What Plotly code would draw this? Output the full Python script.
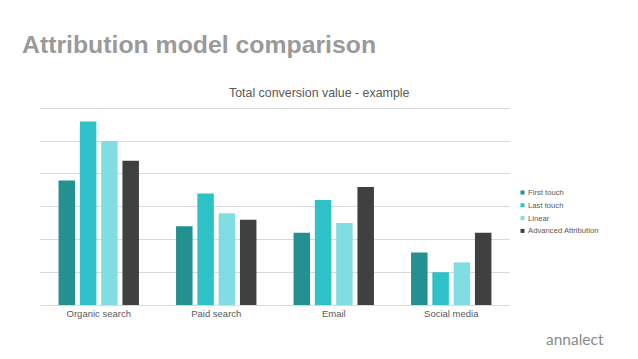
import plotly.graph_objects as go

categories = ["Organic search", "Paid search", "Email", "Social media"]
first_touch = [3.8, 2.4, 2.2, 1.6]
last_touch = [5.6, 3.4, 3.2, 1.0]
linear = [5.0, 2.8, 2.5, 1.3]
advanced = [4.4, 2.6, 3.6, 2.2]

series_names = ["First touch", "Last touch", "Linear", "Advanced Attribution"]
series_values = [first_touch, last_touch, linear, advanced]
colors = ["#22918F", "#2EC1C8", "#80DEE3", "#404040"]

W, H = 638, 359
L, R, T, B = 40, 128, 105, 54
PW, PH = W - L - R, H - T - B


def px(x):
    return (x - L) / PW


def py(y):
    return (H - B - y) / PH


fig = go.Figure()
for name, vals, c in zip(series_names, series_values, colors):
    fig.add_trace(go.Bar(x=categories, y=vals, name=name, marker=dict(color=c, line=dict(width=0))))

font_family = "Liberation Sans, Arial, sans-serif"

annotations = [
    dict(text="<b>Attribution model comparison</b>", xref="paper", yref="paper",
         x=px(20), y=py(44), xanchor="left", yanchor="middle",
         showarrow=False, font=dict(size=24.8, color="#9a9a9a", family=font_family)),
    dict(text="Total conversion value - example", xref="paper", yref="paper",
         x=px(319), y=py(93), xanchor="center", yanchor="middle",
         showarrow=False, font=dict(size=12.4, color="#595959", family=font_family)),
    dict(text="annalect", xref="paper", yref="paper",
         x=px(574.5), y=py(339), xanchor="center", yanchor="middle",
         showarrow=False, font=dict(size=15.5, color="#8a8a8a", family="Lato, sans-serif")),
]
shapes = []
leg_y0, leg_dy = 192.5, 12.8
for i, (name, c) in enumerate(zip(series_names, colors)):
    yc = leg_y0 + i * leg_dy
    annotations.append(dict(text=name, xref="paper", yref="paper", x=px(526), y=py(yc),
                            xanchor="left", yanchor="middle", showarrow=False,
                            font=dict(size=7.7, color="#595959", family=font_family)))
    shapes.append(dict(type="rect", xref="paper", yref="paper", x0=px(520.5), x1=px(524.5),
                       y0=py(yc + 2), y1=py(yc - 2), fillcolor=c, line=dict(width=0)))

fig.update_layout(
    width=W, height=H,
    margin=dict(l=L, r=R, t=T, b=B, autoexpand=False),
    paper_bgcolor="white", plot_bgcolor="white",
    barmode="group", bargap=0.275, bargroupgap=0.225,
    font=dict(family=font_family, color="#595959", size=9),
    xaxis=dict(showgrid=False, showline=True, linecolor="#d9d9d9", linewidth=1,
               ticks="", tickfont=dict(size=9.5, color="#595959"), fixedrange=True),
    yaxis=dict(range=[0, 6.1], tickvals=[1, 2, 3, 4, 5, 6], showgrid=True, gridcolor="#d9d9d9", gridwidth=1,
               showticklabels=False, zeroline=False, ticks="", fixedrange=True),
    showlegend=False,
    annotations=annotations,
    shapes=shapes,
)

fig.write_html("out.html", post_script="document.body.style.margin='0px';",
               config=dict(displayModeBar=False))
